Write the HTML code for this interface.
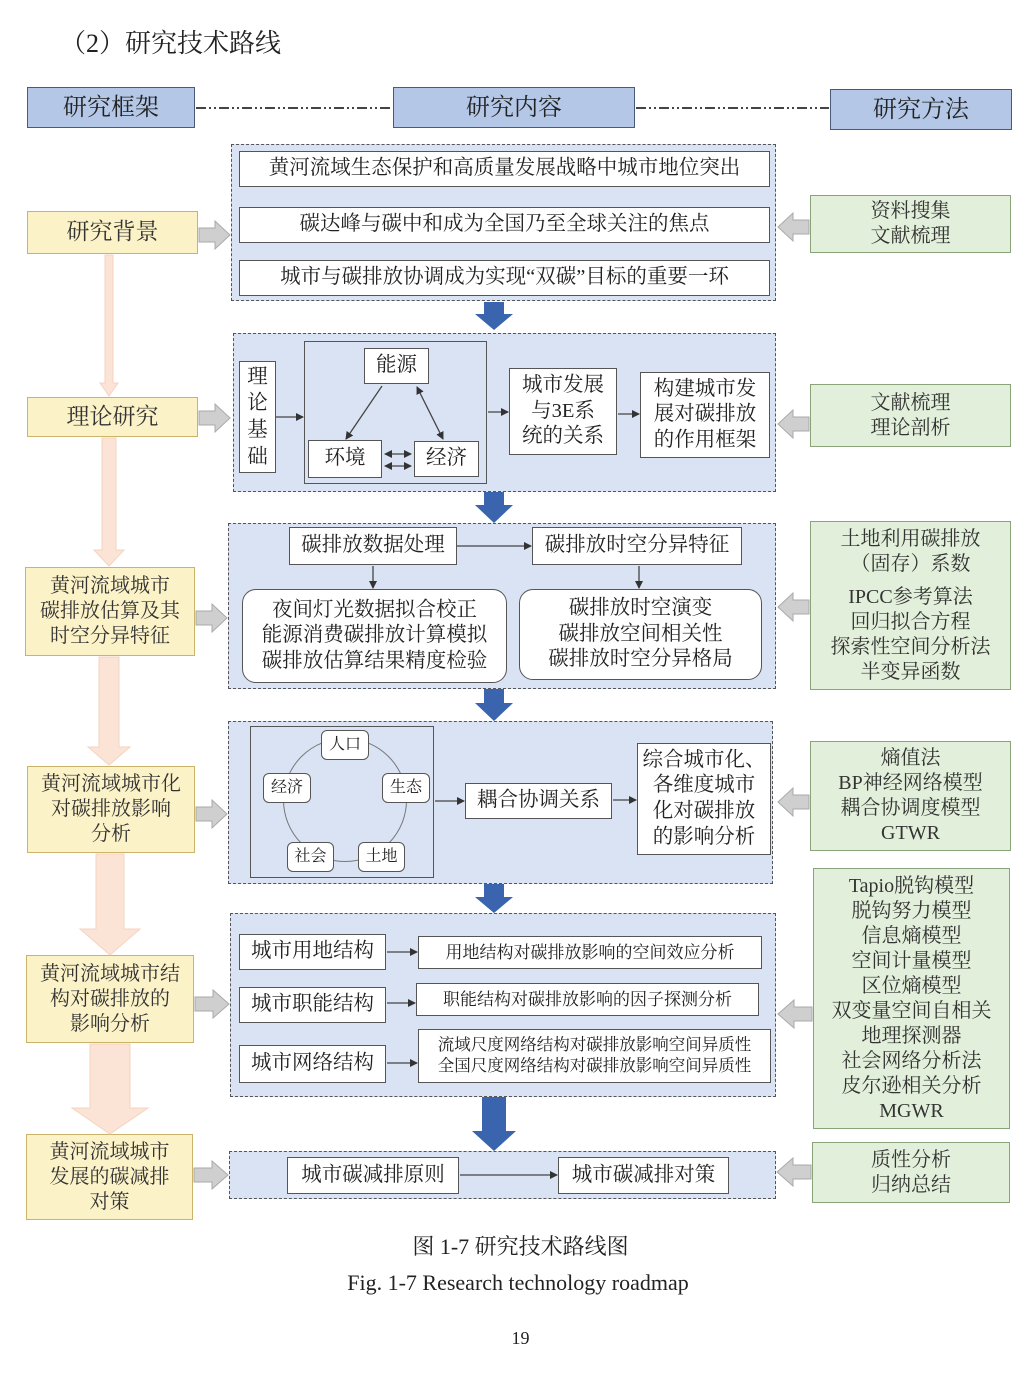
<!DOCTYPE html>
<html><head><meta charset="utf-8">
<style>
body{margin:0;width:1031px;height:1374px;background:#fff;position:relative;overflow:hidden;font-family:"Liberation Serif","Noto Serif CJK SC",serif;color:#222}
.a{position:absolute;display:flex;align-items:center;justify-content:center;text-align:center;box-sizing:border-box;line-height:1.25}
.w{background:#fff;border:1.3px solid #555}
.hd{background:#b4c7e7;border:1.3px solid #4a5a78;font-size:24px}
.pn{background:#dae3f3;border:1.3px dashed #555}
.y{background:#fcf2c8;border:1.3px solid #cbb36a;font-size:20px;color:#333}
.g{background:#e2efda;border:1.3px solid #8aa37a;font-size:20px;color:#333}
.r{border-radius:14px}
.rs{border-radius:6px;font-size:16px}
.f{font-size:20.5px}
</style></head><body>
<div class="a" style="left:60px;top:28px;font-size:26px;justify-content:flex-start">（2）研究技术路线</div>
<div class="a hd" style="left:27px;top:87px;width:168px;height:41px">研究框架</div>
<div class="a hd" style="left:393px;top:87px;width:242px;height:41px">研究内容</div>
<div class="a hd" style="left:830px;top:89px;width:182px;height:41px">研究方法</div>

<div class="a pn" style="left:231px;top:144px;width:545px;height:157px"></div>
<div class="a pn" style="left:233px;top:333px;width:543px;height:159px"></div>
<div class="a pn" style="left:228px;top:523px;width:548px;height:166px"></div>
<div class="a pn" style="left:228px;top:721px;width:545px;height:163px"></div>
<div class="a pn" style="left:230px;top:913px;width:546px;height:184px"></div>
<div class="a pn" style="left:229px;top:1151px;width:547px;height:48px"></div>

<div class="a w f" style="left:239px;top:151px;width:531px;height:36px">黄河流域生态保护和高质量发展战略中城市地位突出</div>
<div class="a w f" style="left:239px;top:207px;width:531px;height:36px">碳达峰与碳中和成为全国乃至全球关注的焦点</div>
<div class="a w f" style="left:239px;top:260px;width:531px;height:36px">城市与碳排放协调成为实现“双碳”目标的重要一环</div>

<div class="a w f" style="left:239px;top:361px;width:37px;height:112px;line-height:1.3">理<br>论<br>基<br>础</div>
<div class="a" style="left:304px;top:341px;width:183px;height:143px;border:1.3px solid #555"></div>
<div class="a w f" style="left:364px;top:348px;width:65px;height:36px">能源</div>
<div class="a w f" style="left:308px;top:440px;width:74px;height:38px">环境</div>
<div class="a w f" style="left:414px;top:441px;width:65px;height:36px">经济</div>
<div class="a w f" style="left:509px;top:368px;width:108px;height:87px">城市发展<br>与3E系<br>统的关系</div>
<div class="a w f" style="left:640px;top:372px;width:130px;height:86px">构建城市发<br>展对碳排放<br>的作用框架</div>

<div class="a w f" style="left:289px;top:527px;width:168px;height:38px">碳排放数据处理</div>
<div class="a w f" style="left:532px;top:527px;width:210px;height:38px">碳排放时空分异特征</div>
<div class="a w r f" style="left:242px;top:589px;width:265px;height:94px">夜间灯光数据拟合校正<br>能源消费碳排放计算模拟<br>碳排放估算结果精度检验</div>
<div class="a w r f" style="left:519px;top:589px;width:243px;height:91px">碳排放时空演变<br>碳排放空间相关性<br>碳排放时空分异格局</div>

<div class="a" style="left:250px;top:726px;width:184px;height:152px;border:1.3px solid #555"></div>
<div class="a" style="left:283px;top:738px;width:124px;height:124px;border:1px solid #777;border-radius:50%"></div>
<div class="a w rs" style="left:321px;top:730px;width:48px;height:30px">人口</div>
<div class="a w rs" style="left:263px;top:773px;width:48px;height:30px">经济</div>
<div class="a w rs" style="left:382px;top:773px;width:48px;height:30px">生态</div>
<div class="a w rs" style="left:287px;top:842px;width:47px;height:30px">社会</div>
<div class="a w rs" style="left:358px;top:842px;width:47px;height:30px">土地</div>
<div class="a w f" style="left:465px;top:783px;width:147px;height:36px">耦合协调关系</div>
<div class="a w f" style="left:637px;top:743px;width:134px;height:112px">综合城市化、<br>各维度城市<br>化对碳排放<br>的影响分析</div>

<div class="a w f" style="left:239px;top:934px;width:147px;height:36px">城市用地结构</div>
<div class="a w f" style="left:239px;top:987px;width:147px;height:36px">城市职能结构</div>
<div class="a w f" style="left:239px;top:1045px;width:147px;height:38px">城市网络结构</div>
<div class="a w" style="left:418px;top:936px;width:344px;height:33px;font-size:17px">用地结构对碳排放影响的空间效应分析</div>
<div class="a w" style="left:416px;top:983px;width:343px;height:33px;font-size:17px">职能结构对碳排放影响的因子探测分析</div>
<div class="a w" style="left:418px;top:1029px;width:353px;height:54px;font-size:16.5px">流域尺度网络结构对碳排放影响空间异质性<br>全国尺度网络结构对碳排放影响空间异质性</div>

<div class="a w f" style="left:287px;top:1157px;width:172px;height:37px">城市碳减排原则</div>
<div class="a w f" style="left:558px;top:1157px;width:171px;height:37px">城市碳减排对策</div>

<div class="a y" style="left:27px;top:211px;width:171px;height:43px;font-size:23px">研究背景</div>
<div class="a y" style="left:27px;top:397px;width:171px;height:40px;font-size:23px">理论研究</div>
<div class="a y" style="left:25px;top:567px;width:170px;height:89px">黄河流域城市<br>碳排放估算及其<br>时空分异特征</div>
<div class="a y" style="left:27px;top:766px;width:168px;height:87px">黄河流域城市化<br>对碳排放影响<br>分析</div>
<div class="a y" style="left:26px;top:955px;width:168px;height:88px">黄河流域城市结<br>构对碳排放的<br>影响分析</div>
<div class="a y" style="left:26px;top:1134px;width:167px;height:86px">黄河流域城市<br>发展的碳减排<br>对策</div>

<div class="a g" style="left:810px;top:195px;width:201px;height:58px">资料搜集<br>文献梳理</div>
<div class="a g" style="left:810px;top:384px;width:201px;height:63px">文献梳理<br>理论剖析</div>
<div class="a g" style="left:810px;top:521px;width:201px;height:169px"><div>土地利用碳排放<br>（固存）系数<div style="height:8px"></div>IPCC参考算法<br>回归拟合方程<br>探索性空间分析法<br>半变异函数</div></div>
<div class="a g" style="left:810px;top:741px;width:201px;height:110px">熵值法<br>BP神经网络模型<br>耦合协调度模型<br>GTWR</div>
<div class="a g" style="left:813px;top:868px;width:197px;height:261px;line-height:1.25">Tapio脱钩模型<br>脱钩努力模型<br>信息熵模型<br>空间计量模型<br>区位熵模型<br>双变量空间自相关<br>地理探测器<br>社会网络分析法<br>皮尔逊相关分析<br>MGWR</div>
<div class="a g" style="left:812px;top:1142px;width:198px;height:61px">质性分析<br>归纳总结</div>

<svg width="1031" height="1374" style="position:absolute;left:0;top:0" xmlns="http://www.w3.org/2000/svg">
<defs>
<marker id="m" markerWidth="8" markerHeight="8" refX="7" refY="4" orient="auto" markerUnits="userSpaceOnUse"><path d="M0,0 L8,4 L0,8 z" fill="#333"/></marker>
<marker id="ms" markerWidth="8" markerHeight="8" refX="1" refY="4" orient="auto" markerUnits="userSpaceOnUse"><path d="M8,0 L0,4 L8,8 z" fill="#333"/></marker>
</defs>
<g stroke="#444" stroke-width="2" stroke-dasharray="10,3,2,3,2,3">
<line x1="196" y1="108" x2="392" y2="108"/><line x1="636" y1="108" x2="829" y2="108"/>
</g>
<g fill="#3a64ad">
<path d="M484,302 h20 v12 h9 l-19,16 l-19,-16 h9z"/>
<path d="M484,492 h20 v13 h9 l-19,18 l-19,-18 h9z"/>
<path d="M484,689 h20 v14 h9 l-19,18 l-19,-18 h9z"/>
<path d="M484,884 h20 v13 h9 l-19,16 l-19,-16 h9z"/>
<path d="M482,1097 h24 v34 h10 l-22,20 l-22,-20 h10z"/>
</g>
<g fill="#cfcfcf" stroke="#aaa" stroke-width="1">
<path d="M199,228 h16 v-7 l15,14 l-15,14 v-7 h-16z"/>
<path d="M199,411 h16 v-7 l15,14 l-15,14 v-7 h-16z"/>
<path d="M196,611 h16 v-7 l15,14 l-15,14 v-7 h-16z"/>
<path d="M196,807 h16 v-7 l15,14 l-15,14 v-7 h-16z"/>
<path d="M195,997 h18 v-7 l16,14 l-16,14 v-7 h-18z"/>
<path d="M194,1168 h18 v-7 l16,14 l-16,14 v-7 h-18z"/>
<path d="M809,220 h-16 v-7 l-15,14 l15,14 v-7 h16z"/>
<path d="M809,417 h-16 v-7 l-15,14 l15,14 v-7 h16z"/>
<path d="M809,600 h-16 v-7 l-15,14 l15,14 v-7 h16z"/>
<path d="M809,795 h-16 v-7 l-15,14 l15,14 v-7 h16z"/>
<path d="M812,1007 h-18 v-7 l-16,14 l16,14 v-7 h18z"/>
<path d="M811,1165 h-18 v-7 l-16,14 l16,14 v-7 h18z"/>
</g>
<g fill="#fbe4d6" stroke="#f5d3c0" stroke-width="1">
<path d="M105,255 h8 v128 h5 l-9,13 l-9,-13 h5z"/>
<path d="M102,438 h14 v112 h8 l-15,16 l-15,-16 h8z"/>
<path d="M99,657 h20 v90 h11 l-21,18 l-21,-18 h11z"/>
<path d="M96,854 h28 v75 h16 l-30,26 l-30,-26 h16z"/>
<path d="M90,1044 h40 v64 h18 l-38,26 l-38,-26 h18z"/>
</g>
<g stroke="#444" stroke-width="1.3" fill="none">
<line x1="276" y1="417" x2="303" y2="417" marker-end="url(#m)"/>
<line x1="382" y1="386" x2="346" y2="439" marker-end="url(#m)"/>
<line x1="417" y1="387" x2="443" y2="439" marker-end="url(#m)" marker-start="url(#ms)"/>
<line x1="385" y1="454" x2="411" y2="454" marker-end="url(#m)" marker-start="url(#ms)"/>
<line x1="385" y1="466" x2="411" y2="466" marker-end="url(#m)" marker-start="url(#ms)"/>
<line x1="488" y1="412" x2="508" y2="412" marker-end="url(#m)"/>
<line x1="618" y1="414" x2="639" y2="414" marker-end="url(#m)"/>
<line x1="457" y1="546" x2="531" y2="546" marker-end="url(#m)"/>
<line x1="373" y1="566" x2="373" y2="588" marker-end="url(#m)"/>
<line x1="639" y1="566" x2="639" y2="588" marker-end="url(#m)"/>
<line x1="435" y1="801" x2="464" y2="801" marker-end="url(#m)"/>
<line x1="613" y1="800" x2="636" y2="800" marker-end="url(#m)"/>
<line x1="387" y1="952" x2="417" y2="952" marker-end="url(#m)"/>
<line x1="387" y1="1003" x2="415" y2="1003" marker-end="url(#m)"/>
<line x1="387" y1="1063" x2="417" y2="1063" marker-end="url(#m)"/>
<line x1="460" y1="1175" x2="557" y2="1175" marker-end="url(#m)"/>
</g>
</svg>

<div class="a" style="left:0;top:1233px;width:1041px;height:28px;font-size:22px">图 1-7 研究技术路线图</div>
<div class="a" style="left:0;top:1269px;width:1036px;height:28px;font-size:22px">Fig. 1-7 Research technology roadmap</div>
<div class="a" style="left:0;top:1326px;width:1041px;height:24px;font-size:18px">19</div>
</body></html>
